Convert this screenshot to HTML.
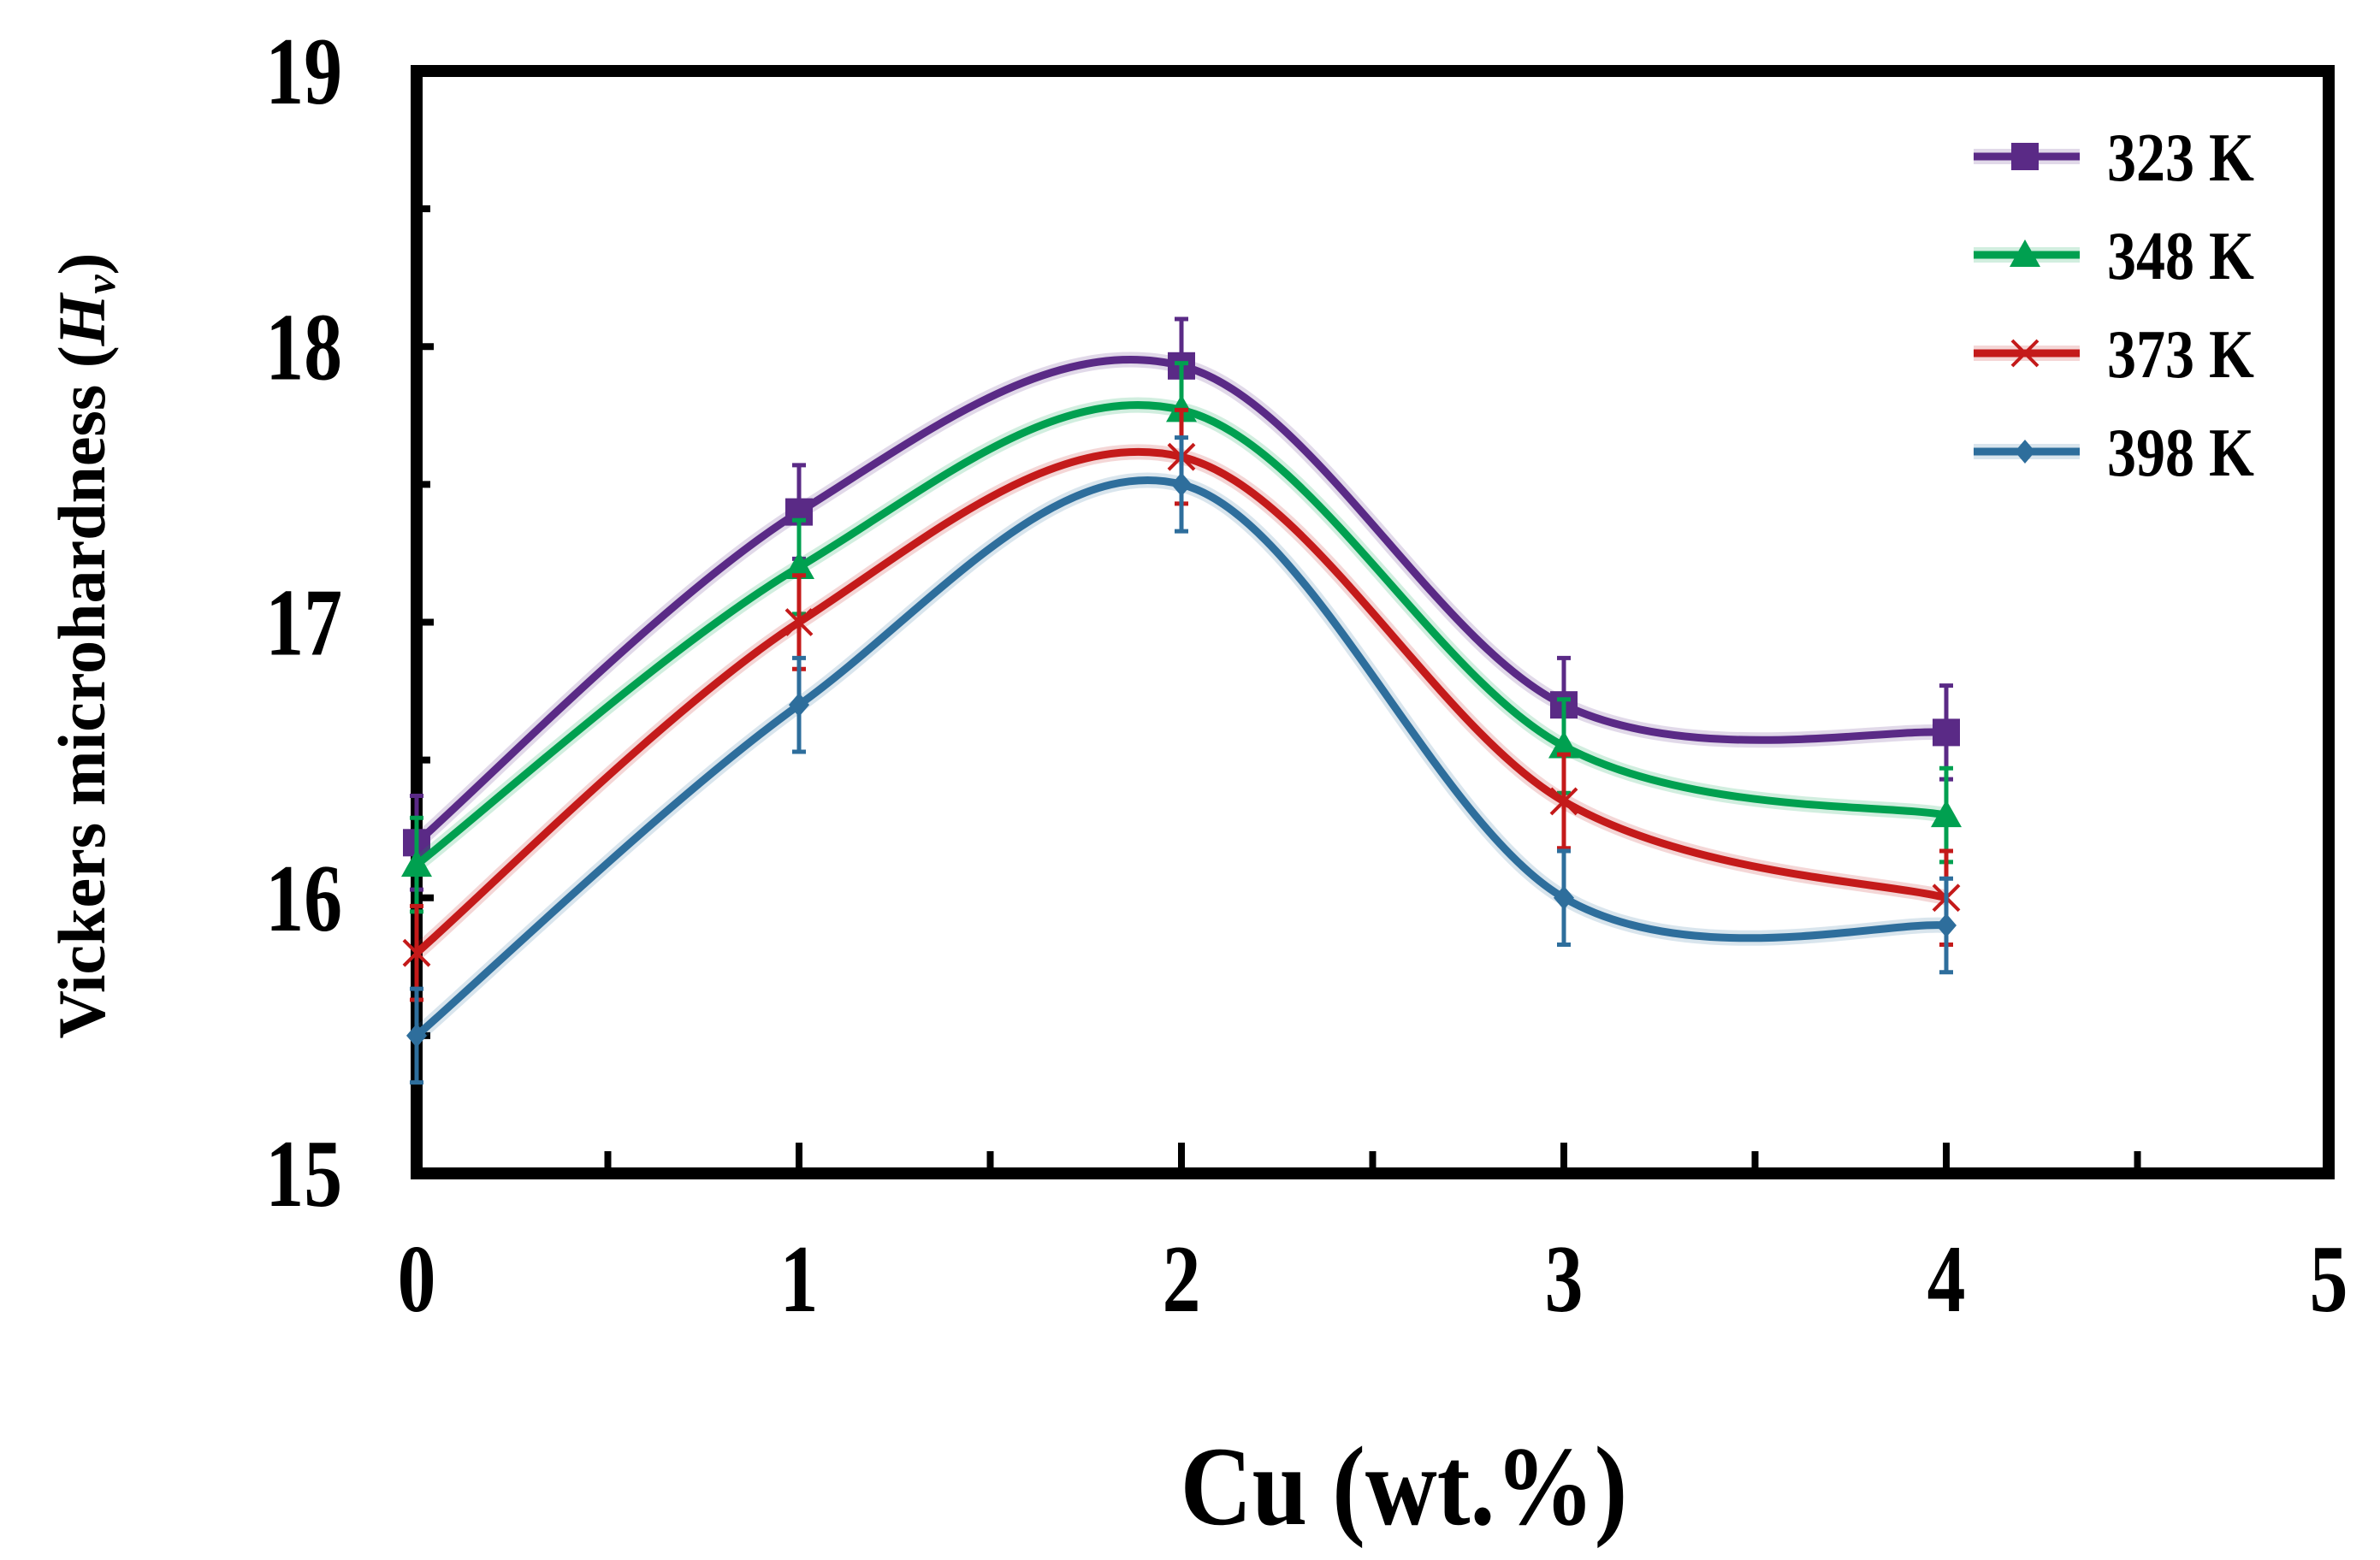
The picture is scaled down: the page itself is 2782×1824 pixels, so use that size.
<!DOCTYPE html>
<html><head><meta charset="utf-8"><style>
html,body{margin:0;padding:0;background:#fff;}
svg text{font-family:"Liberation Serif",serif;font-weight:bold;fill:#000;}
</style></head><body>
<svg id="chart" width="2782" height="1819" viewBox="0 0 2782 1819" xmlns="http://www.w3.org/2000/svg">
<g id="plot"></g>
<text transform="translate(1641,1782) scale(0.88,1)" font-size="132" text-anchor="middle">Cu (wt.%)</text>
<text transform="translate(122,755) rotate(-90)" font-size="78" text-anchor="middle">Vickers microhardness (<tspan font-style="italic">H</tspan><tspan font-style="italic" font-size="50" dy="12">v</tspan><tspan dy="-12">)</tspan></text>
</svg>
<script>
const categories=[0,1,2,3,4];
const seriesNames=["323 K","348 K","373 K","398 K"];
const s323=[16.2,17.4,17.93,16.7,16.6];
const s348=[16.12,17.2,17.77,16.55,16.3];
const s373=[15.8,17.0,17.6,16.35,16.0];
const s398=[15.5,16.7,17.5,16.0,15.9];
const errs=[0.17,0.17,0.17,0.17,0.17];
const xTicks=[0,1,2,3,4,5];
const yTicks=[15,16,17,18,19];

const NS="http://www.w3.org/2000/svg";
const X0=487,X1=2722,Y0=1372,Y1=83;
const xs=v=>X0+(v-0)/5*(X1-X0);
const ys=v=>Y0-(v-15)/4*(Y0-Y1);
const g=document.getElementById('plot');
function el(t,a,p){const e=document.createElementNS(NS,t);for(const k in a)e.setAttribute(k,a[k]);(p||g).appendChild(e);return e;}
const colors=["#5a2a86","#00a050","#c41a1a","#2e6e9c"];
const all=[s323,s348,s373,s398];
function smooth(pts){let d=`M${pts[0][0]},${pts[0][1]}`;for(let i=0;i<pts.length-1;i++){const p0=pts[i-1]||pts[i],p1=pts[i],p2=pts[i+1],p3=pts[i+2]||p2;const t=1/6;d+=` C${p1[0]+(p2[0]-p0[0])*t},${p1[1]+(p2[1]-p0[1])*t} ${p2[0]-(p3[0]-p1[0])*t},${p2[1]-(p3[1]-p1[1])*t} ${p2[0]},${p2[1]}`;}return d;}
xTicks.forEach(v=>{const t=el('line',{x1:xs(v),x2:xs(v),y1:Y0,y2:Y0-36,stroke:'#000','stroke-width':8});
 if(v<5){const m=el('line',{x1:xs(v+0.5),x2:xs(v+0.5),y1:Y0,y2:Y0-26,stroke:'#000','stroke-width':8});}
 const tx=el('text',{transform:`translate(${xs(v)},1533) scale(0.8,1)`,'font-size':112,'text-anchor':'middle'});tx.textContent=v;});
yTicks.forEach(v=>{const t=el('line',{x1:X0,x2:X0+20,y1:ys(v),y2:ys(v),stroke:'#000','stroke-width':8});
 if(v<19){const m=el('line',{x1:X0,x2:X0+16,y1:ys(v+0.5),y2:ys(v+0.5),stroke:'#000','stroke-width':8});}
 const tx=el('text',{transform:`translate(400,${ys(v)+38}) scale(0.8,1)`,'font-size':112,'text-anchor':'end'});tx.textContent=v;});
const frame=el('rect',{x:X0,y:Y1,width:X1-X0,height:Y0-Y1,fill:'none',stroke:'#000','stroke-width':14});

function marker(i,x,y,parent){const c=colors[i];let m;
 if(i===0)m=el('rect',{x:x-16,y:y-16,width:32,height:32,fill:c},parent);
 else if(i===1)m=el('polygon',{points:`${x},${y-18} ${x+18},${y+14} ${x-18},${y+14}`,fill:c},parent);
 else if(i===2)m=el('path',{d:`M${x-15},${y-15}L${x+15},${y+15}M${x-15},${y+15}L${x+15},${y-15}`,stroke:c,'stroke-width':4},parent);
 else m=el('polygon',{points:`${x},${y-14} ${x+12},${y} ${x},${y+14} ${x-12},${y}`,fill:c},parent);
 return m;}
all.forEach((s,i)=>{const sg=el('g',{});
 const pts=categories.map((c,j)=>[xs(c),ys(s[j])]);
 const gl=el('path',{d:smooth(pts),fill:'none',stroke:colors[i],'stroke-opacity':0.18,'stroke-width':18},sg);
 const p=el('path',{d:smooth(pts),fill:'none',stroke:colors[i],'stroke-width':9},sg);
 categories.forEach((c,j)=>{const x=xs(c);const e=el('path',{d:`M${x},${ys(s[j]-errs[j])}V${ys(s[j]+errs[j])}M${x-8},${ys(s[j]-errs[j])}h16M${x-8},${ys(s[j]+errs[j])}h16`,stroke:colors[i],'stroke-width':5},sg);
  const m=marker(i,x,ys(s[j]),sg);});
});
const lg=el('g',{});
seriesNames.forEach((n,i)=>{const y=183+i*115;const eg=el('g',{},lg);
 el('line',{x1:2307,x2:2431,y1:y,y2:y,stroke:colors[i],'stroke-opacity':0.18,'stroke-width':18},eg);
 el('line',{x1:2307,x2:2431,y1:y,y2:y,stroke:colors[i],'stroke-width':9},eg);
 marker(i,2367,y,eg);
 const t=el('text',{transform:`translate(2463,${y+28}) scale(0.85,1)`,'font-size':80},eg);t.textContent=n;});
</script>
</body></html>
